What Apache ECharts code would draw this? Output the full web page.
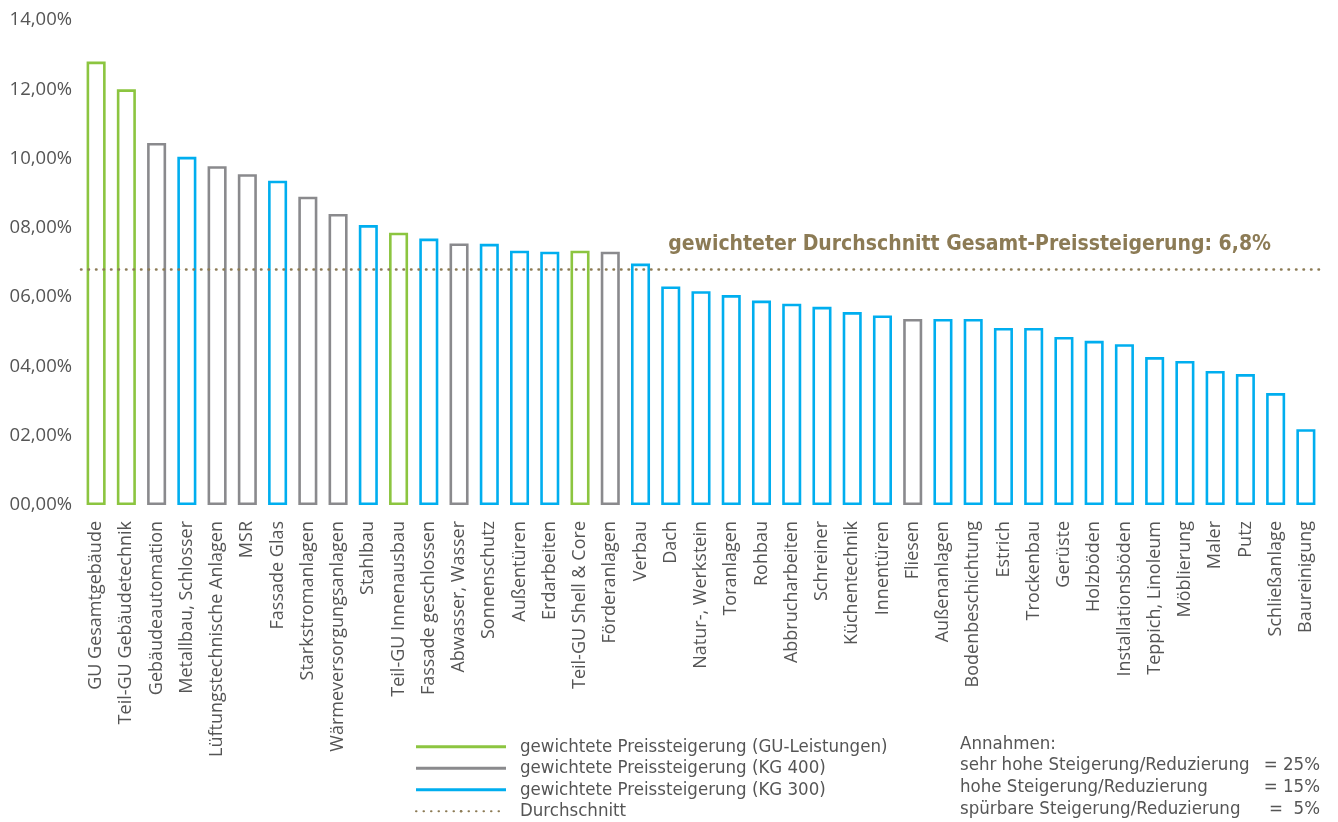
<!DOCTYPE html>
<html>
<head>
<meta charset="utf-8">
<script src="https://cdn.jsdelivr.net/npm/echarts@6/dist/echarts.min.js"></script>
<style>
  html, body { margin: 0; padding: 0; background: #fff; }
  #chart { width: 1338px; height: 822px; }
</style>
</head>
<body>
<div id="chart"></div>
<script>
// Gewerke, absteigend nach gewichteter Preissteigerung
const categories = [
  'GU Gesamtgebäude', 'Teil-GU Gebäudetechnik', 'Gebäudeautomation', 'Metallbau, Schlosser',
  'Lüftungstechnische Anlagen', 'MSR', 'Fassade Glas', 'Starkstromanlagen',
  'Wärmeversorgungsanlagen', 'Stahlbau', 'Teil-GU Innenausbau', 'Fassade geschlossen',
  'Abwasser, Wasser', 'Sonnenschutz', 'Außentüren', 'Erdarbeiten', 'Teil-GU Shell & Core',
  'Förderanlagen', 'Verbau', 'Dach', 'Natur-, Werkstein', 'Toranlagen', 'Rohbau',
  'Abbrucharbeiten', 'Schreiner', 'Küchentechnik', 'Innentüren', 'Fliesen', 'Außenanlagen',
  'Bodenbeschichtung', 'Estrich', 'Trockenbau', 'Gerüste', 'Holzböden', 'Installationsböden',
  'Teppich, Linoleum', 'Möblierung', 'Maler', 'Putz', 'Schließanlage', 'Baureinigung'
];

// Preissteigerung in % je Gewerk
const values = [
  12.8, 12.0, 10.45, 10.05, 9.78, 9.55, 9.36, 8.9, 8.4, 8.08, 7.86, 7.69,
  7.55, 7.54, 7.34, 7.31, 7.34, 7.31, 6.97, 6.31, 6.17, 6.06, 5.9, 5.81, 5.72,
  5.57, 5.47, 5.37, 5.37, 5.37, 5.11, 5.11, 4.85, 4.74, 4.64, 4.27, 4.16, 3.87,
  3.78, 3.23, 2.19
];

// Gruppe je Gewerk: GU = GU-Leistungen, KG400, KG300
const groups = [
  'GU', 'GU', 'KG400', 'KG300', 'KG400', 'KG400', 'KG300', 'KG400', 'KG400', 'KG300',
  'GU', 'KG300', 'KG400', 'KG300', 'KG300', 'KG300', 'GU', 'KG400', 'KG300', 'KG300',
  'KG300', 'KG300', 'KG300', 'KG300', 'KG300', 'KG300', 'KG300', 'KG400', 'KG300',
  'KG300', 'KG300', 'KG300', 'KG300', 'KG300', 'KG300', 'KG300', 'KG300', 'KG300',
  'KG300', 'KG300', 'KG300'
];

const seriesNames = {
  GU: 'gewichtete Preissteigerung (GU-Leistungen)',
  KG400: 'gewichtete Preissteigerung (KG 400)',
  KG300: 'gewichtete Preissteigerung (KG 300)'
};
const averageName = 'Durchschnitt';
const averageValue = 6.8;

const yTicks = [0, 2, 4, 6, 8, 10, 12, 14];

const assumptionTitle = 'Annahmen:';
const assumptionLabels = [
  'sehr hohe Steigerung/Reduzierung',
  'hohe Steigerung/Reduzierung',
  'spürbare Steigerung/Reduzierung'
];
const assumptionValues = ['= 25%', '= 15%', '=  5%'];

const colors = { GU: '#8cc540', KG400: '#8a8a8d', KG300: '#00aeef' };
const avgColor = '#8c7b55';
const textColor = '#555';
const font = '"Open Sans", "Noto Sans", sans-serif';
const condFont = '"DejaVu Sans Condensed", "Open Sans", sans-serif';

const fmtPct = (v, d) => {
  const s = v.toFixed(d).replace('.', ',');
  const [i, f] = s.split(',');
  return (i.length < 2 ? '0' + i : i) + (f !== undefined ? ',' + f : '') + '%';
};

const barSeries = ['GU', 'KG400', 'KG300'].map(g => ({
  name: seriesNames[g],
  type: 'bar',
  stack: 'all',
  barCategoryGap: '37%',
  data: values.map((v, i) => groups[i] === g ? v : null),
  itemStyle: { color: '#fff', borderColor: colors[g], borderWidth: 2.6 },
  emphasis: { disabled: true }
}));

const chart = echarts.init(document.getElementById('chart'), null, { renderer: 'canvas' });

// Annahmen-Block rechts unten
const rowY = [745, 766, 788, 810];
const assumptionGraphics = [{
  type: 'text', left: 960, top: rowY[0] - 10,
  style: { text: assumptionTitle, font: '18.5px ' + condFont, fill: textColor }
}];
assumptionLabels.forEach((t, i) => {
  assumptionGraphics.push({
    type: 'text', left: 960, top: rowY[i + 1] - 10,
    style: { text: t, font: '18.5px ' + condFont, fill: textColor }
  });
  assumptionGraphics.push({
    type: 'text', right: 18, top: rowY[i + 1] - 10,
    style: { text: assumptionValues[i], font: '18.5px ' + condFont, fill: textColor, textAlign: 'right' }
  });
});

chart.setOption({
  animation: false,
  grid: { left: 81, right: 17, top: 20, bottom: 317, containLabel: false },
  xAxis: {
    type: 'category',
    data: categories,
    axisLine: { show: false },
    axisTick: { show: false },
    axisLabel: {
      rotate: 90, interval: 0, margin: 16,
      color: textColor, fontFamily: font, fontSize: 18
    }
  },
  yAxis: {
    type: 'value', min: 0, max: 14, interval: 2,
    splitLine: { show: false },
    axisLine: { show: false },
    axisTick: { show: false },
    axisLabel: {
      margin: 9, color: textColor, fontFamily: font, fontSize: 18.5,
      formatter: v => yTicks.includes(v) ? fmtPct(v, 2) : ''
    }
  },
  legend: {
    orient: 'vertical',
    left: 415, top: 737,
    height: 85,
    padding: 0,
    itemWidth: 90, itemHeight: 3,
    itemGap: 2,
    textStyle: { color: textColor, fontFamily: condFont, fontSize: 18.5, lineHeight: 19.5, padding: [0, 0, 0, 9] },
    selectedMode: false,
    data: [
      { name: seriesNames.GU, icon: 'rect', itemStyle: { color: colors.GU, borderWidth: 0 } },
      { name: seriesNames.KG400, icon: 'rect', itemStyle: { color: colors.KG400, borderWidth: 0 } },
      { name: seriesNames.KG300, icon: 'rect', itemStyle: { color: colors.KG300, borderWidth: 0 } },
      { name: averageName }
    ]
  },
  graphic: assumptionGraphics,
  series: [
    ...barSeries,
    {
      name: averageName,
      type: 'line',
      data: [],
      symbol: 'none',
      itemStyle: { color: avgColor },
      lineStyle: { color: avgColor, width: 2.5, type: [0.5, 7], cap: 'round' },
      markLine: {
        silent: true,
        symbol: 'none',
        data: [{ yAxis: averageValue }],
        lineStyle: { color: avgColor, width: 2.5, type: [0.5, 7], cap: 'round' },
        label: {
          show: true,
          position: 'insideEndTop',
          distance: [50, 14],
          color: avgColor,
          fontFamily: condFont,
          fontWeight: 'bold',
          fontSize: 21,
          formatter: () => 'gewichteter Durchschnitt Gesamt-Preissteigerung: ' +
            averageValue.toFixed(1).replace('.', ',') + '%'
        }
      }
    }
  ]
});
</script>
</body>
</html>
